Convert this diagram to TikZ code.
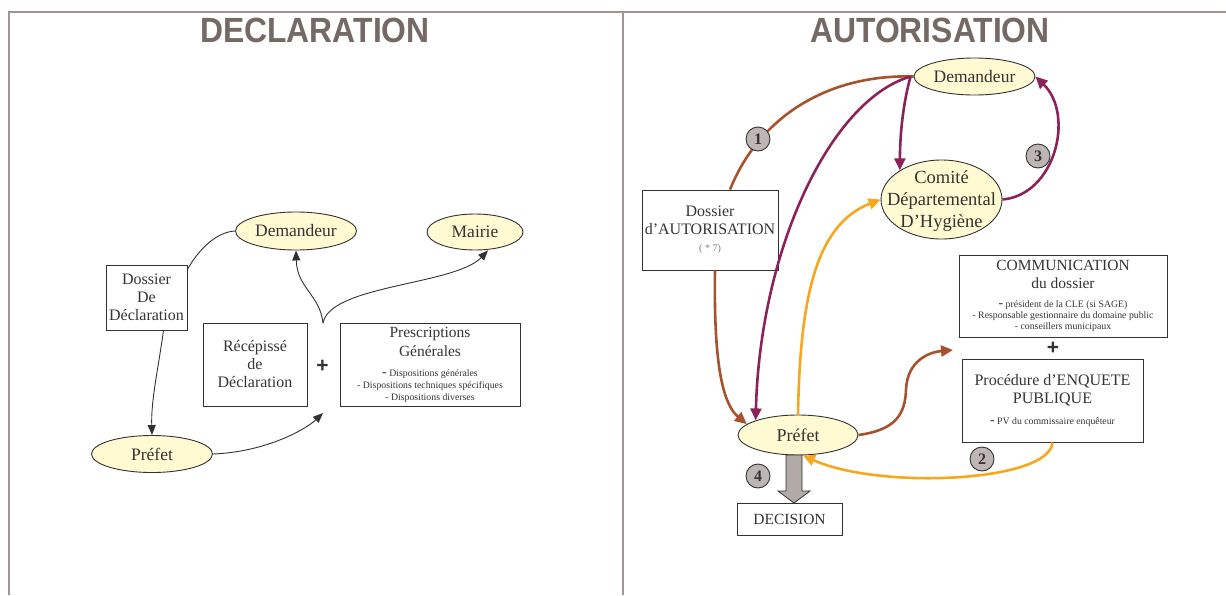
\documentclass[tikz,border=0pt]{standalone}
\usepackage{fontspec}
\setmainfont{Liberation Serif}
\newfontfamily\headfont{Liberation Sans}
\usetikzlibrary{shapes.geometric,arrows.meta,calc}

\definecolor{framec}{RGB}{160,149,146}
\definecolor{titlec}{RGB}{116,105,101}
\definecolor{txt}{RGB}{52,52,52}
\definecolor{edge}{RGB}{50,50,50}
\definecolor{ellfill}{RGB}{255,250,210}
\definecolor{brownc}{RGB}{166,82,45}
\definecolor{purplec}{RGB}{140,34,90}
\definecolor{orangec}{RGB}{247,166,30}
\definecolor{numfill}{RGB}{190,182,180}
\definecolor{bigarrow}{RGB}{178,170,166}
\definecolor{notec}{RGB}{125,125,125}

% larger leading dash used in the bullet lists
\newcommand{\bdash}{{\fontsize{14}{14}\selectfont -}}
% centred multi-line text that does not enlarge its ellipse
\newcommand{\ellstack}[1]{\makebox[0pt]{\smash{\raisebox{-6pt}{\begin{tabular}[c]{@{}c@{}}#1\end{tabular}}}}}

\begin{document}
\begin{tikzpicture}[x=1pt,y=-1pt,
  ell/.style={ellipse,draw=edge,fill=ellfill,line width=0.9pt,inner sep=0pt,text=txt},
  boxn/.style={rectangle,draw=edge,line width=0.9pt,inner sep=0pt,text=txt,align=center},
  num/.style={circle,draw=edge,fill=numfill,line width=0.9pt,minimum size=24pt,inner sep=0pt,
              font=\fontsize{16}{16}\selectfont\bfseries,text=txt},
  plain/.style={draw=edge,line width=0.9pt},
  plainarr/.style={plain,-{Triangle[length=10pt,width=8pt]}},
  flow/.style={line width=2.6pt,-{Triangle[length=12pt,width=11pt]}},
  flowline/.style={line width=2.6pt},
  titlen/.style={font=\headfont\bfseries\fontsize{35}{35}\selectfont,text=titlec,inner sep=0pt},
  bigtxt/.style={font=\fontsize{17.5}{20}\selectfont},
  midtxt/.style={font=\fontsize{16}{18}\selectfont},
  plusn/.style={font=\headfont\bfseries\fontsize{21}{21}\selectfont,text=txt,inner sep=0pt}
]
\useasboundingbox (0,0) rectangle (1226,595);

% frame and divider
\draw[framec,line width=2pt] (9,595) -- (9,12) -- (1226,12);
\draw[framec,line width=2pt] (623,12) -- (623,595);

% headings
\node[titlen] (tDecl) at (315,30) {\scalebox{0.91}[1]{DECLARATION}};
\node[titlen] (tAuto) at (930,30) {\scalebox{0.91}[1]{AUTORISATION}};

% ---------------- left part: declaration ----------------
\node[ell,bigtxt,minimum width=121pt,minimum height=38pt] (dL) at (296,231) {Demandeur};
\node[ell,bigtxt,minimum width=96pt,minimum height=36pt] (mL) at (475,232) {Mairie};
\node[ell,bigtxt,minimum width=121pt,minimum height=37pt] (pL) at (152,454) {Préfet};
\node[boxn,midtxt,minimum width=81pt,minimum height=65pt] (dossL) at (146.5,297.5)
  {Dossier\\De\\Déclaration};
\node[boxn,midtxt,minimum width=104pt,minimum height=83pt] (recL) at (255,364.5)
  {Récépissé\\de\\Déclaration};
\node[plusn] (plusL) at (322.5,366) {+};
\node[boxn,font=\fontsize{15.5}{19}\selectfont,minimum width=180pt,minimum height=83pt] (presL) at (430,364.5)
  {Prescriptions\\Générales\\[1pt]
   {\fontsize{9.8}{11}\selectfont\bdash{} Dispositions générales}\\[-7pt]
   {\fontsize{9.8}{11}\selectfont - Dispositions techniques spécifiques}\\[-7pt]
   {\fontsize{9.8}{11}\selectfont - Dispositions diverses}};

\coordinate (split) at (323,323);
\coordinate (plusIn) at (323,413);

\draw[plain] ([yshift=-5pt]dossL.north east) .. controls (197,252) and (215,232) .. (dL.west);
\draw[plainarr] ([xshift=17pt]dossL.south) .. controls (158,370) and (151,400) .. (pL.north);
\draw[plainarr] (pL.east) .. controls (265,452) and (305,430) .. (plusIn);
\draw[plainarr] (split) .. controls (320,295) and (297,288) .. (dL.south);
\draw[plainarr] (split) .. controls (330,285) and (455,285) .. ([xshift=13pt]mL.south);

% ---------------- right part: authorisation ----------------
\node[ell,bigtxt,minimum width=121pt,minimum height=37pt] (dR) at (974.5,76.5) {Demandeur};
\node[ell,font=\fontsize{18.5}{22}\selectfont,minimum width=121pt,minimum height=79pt] (cR) at (941.5,199.5)
  {\ellstack{Comité\\Départemental\\D’Hygiène}};
\node[ell,font=\fontsize{18}{20}\selectfont,minimum width=120pt,minimum height=40pt] (pR) at (798,435) {Préfet};
\node[boxn,midtxt,minimum width=136pt,minimum height=80pt] (dossR) at (710,230)
  {Dossier\\d’AUTORISATION\\[-1pt]{\fontsize{10}{10}\selectfont\color{notec}( * 7)}};
\node[boxn,font=\fontsize{15.5}{18}\selectfont,minimum width=208pt,minimum height=82pt] (commR) at (1063,296)
  {COMMUNICATION\\du dossier\\[1pt]
   {\fontsize{9.8}{11}\selectfont\bdash{} président de la CLE (si SAGE)}\\[-7pt]
   {\fontsize{9.8}{11}\selectfont - Responsable gestionnaire du domaine public}\\[-7pt]
   {\fontsize{9.8}{11}\selectfont - conseillers municipaux}};
\node[plusn] (plusR) at (1053,348) {+};
\node[boxn,midtxt,minimum width=181pt,minimum height=83pt] (procR) at (1052.5,400.5)
  {Procédure d’ENQUETE\\PUBLIQUE\\[3pt]
   {\fontsize{9.8}{11}\selectfont\bdash{} PV du commissaire enquêteur}};
\node[boxn,font=\fontsize{15.5}{18}\selectfont,minimum width=105pt,minimum height=32pt] (decR) at (789.5,519) {DECISION};

\coordinate (commIn) at (953,350);

% flows
\draw[flowline,brownc] (dR.west) .. controls (830,74) and (760,115) .. ([xshift=20pt]dossR.north);
\draw[flow,brownc] ([xshift=5pt]dossR.south) .. controls (714,340) and (718,400) .. (pR.168);
\draw[flow,purplec] ([xshift=-3pt]dR.west) .. controls (830,100) and (760,250) .. (pR.161);
\draw[flow,purplec] ([xshift=-3pt]dR.west) .. controls (904,100) and (900,130) .. (cR.145);
\draw[flow,purplec] (cR.east) .. controls (1055,195) and (1075,115) .. (dR.east);
\draw[flow,orangec] (pR.north) .. controls (800,300) and (815,225) .. (cR.west);
\draw[flow,brownc] (pR.east) .. controls (895,430) and (905,415) .. (906,390)
   .. controls (907,360) and (930,352) .. (commIn);
\draw[flow,orangec] (procR.south) .. controls (1050,482) and (880,490) .. ([xshift=5pt]pR.south);

% broad arrow towards the decision
\draw[fill=bigarrow,draw=edge,line width=0.8pt]
  (786,455) -- (802,455) -- (802,491) -- (810,491) -- (794,503) -- (778,491) -- (786,491) -- cycle;

% step numbers
\node[num] (n1) at (758,139) {1};
\node[num] (n2) at (982,459) {2};
\node[num] (n3) at (1038,156) {3};
\node[num] (n4) at (758,476) {4};
\end{tikzpicture}
\end{document}
